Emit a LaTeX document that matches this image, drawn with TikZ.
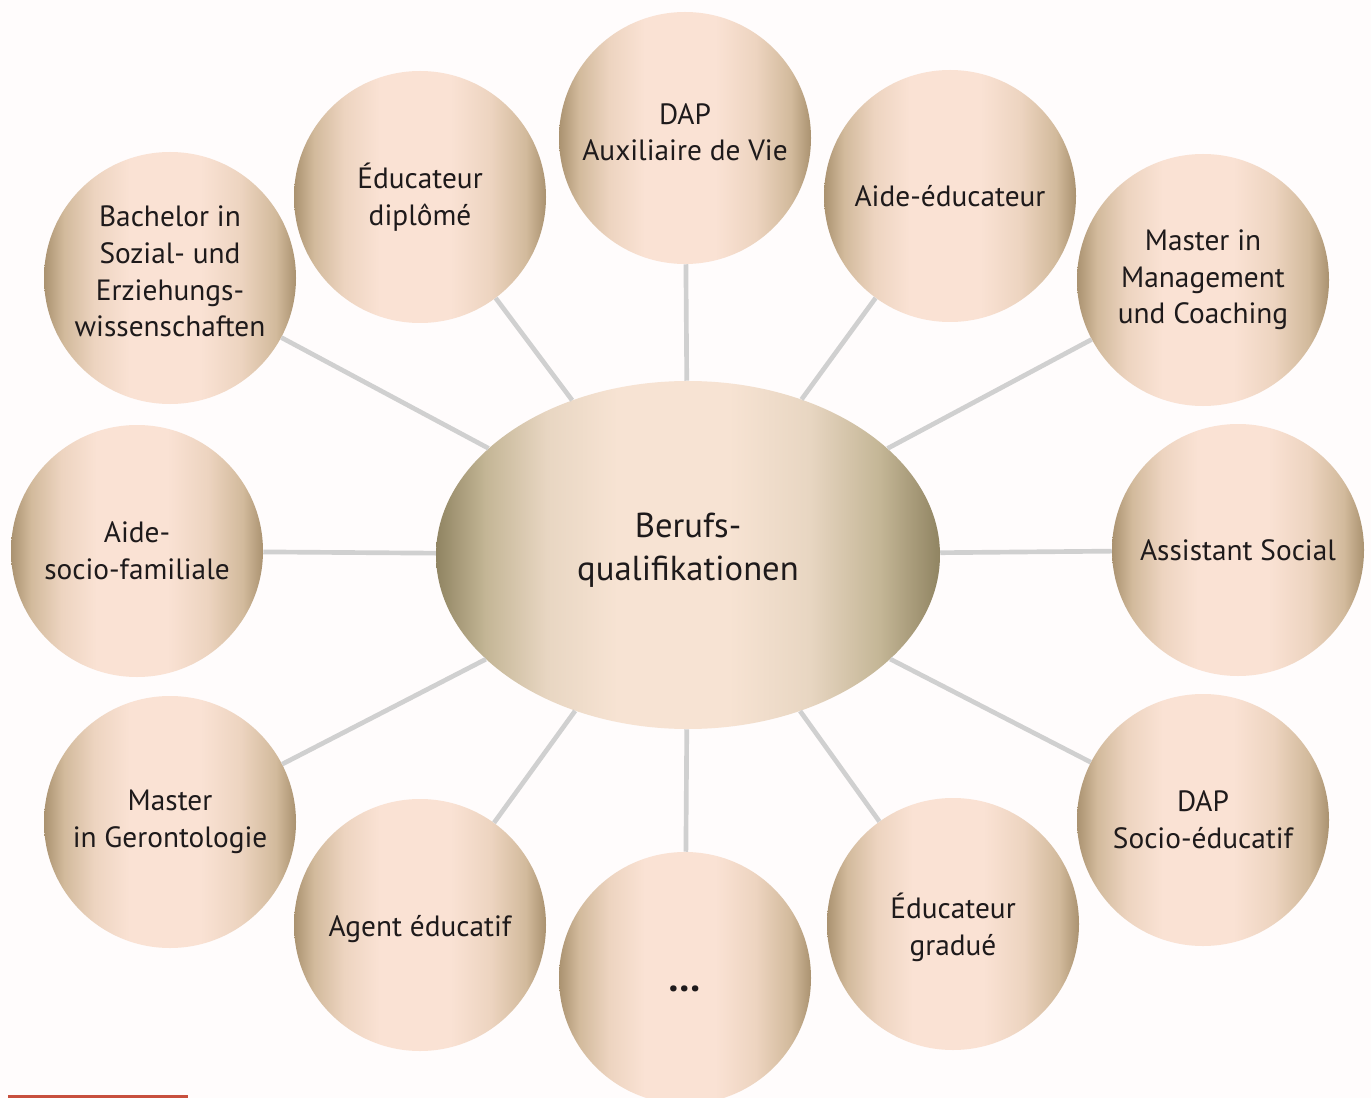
\documentclass[tikz,border=0pt]{standalone}
\usepackage{fontspec}
\setmainfont{PT Sans}
\usepackage{tikz}
\usetikzlibrary{shapes.geometric}

\definecolor{pagebg}{RGB}{255,252,252}
\definecolor{linkgray}{RGB}{208,208,208}
\definecolor{textdark}{RGB}{30,26,27}
\definecolor{barred}{RGB}{200,80,62}
\definecolor{balledge}{RGB}{170,146,112}
\definecolor{ballmid}{RGB}{210,186,156}
\definecolor{ballsoft}{RGB}{237,212,192}
\definecolor{ballpeach}{RGB}{250,226,212}
\definecolor{hubedge}{RGB}{144,132,98}
\definecolor{hubmid}{RGB}{196,182,150}
\definecolor{hubsoft}{RGB}{232,214,194}
\definecolor{hubpeach}{RGB}{247,227,211}

\pgfdeclarehorizontalshading{ballshade}{100bp}{color(0bp)=(balledge); color(25bp)=(balledge);
  color(29bp)=(ballmid); color(35bp)=(ballsoft); color(42bp)=(ballpeach); color(56bp)=(ballpeach);
  color(64bp)=(ballsoft); color(71bp)=(ballmid); color(75bp)=(balledge); color(100bp)=(balledge)}
\pgfdeclarehorizontalshading{hubshade}{100bp}{color(0bp)=(hubedge); color(25bp)=(hubedge);
  color(30bp)=(hubmid); color(36bp)=(hubsoft); color(43bp)=(hubpeach); color(54bp)=(hubpeach);
  color(62bp)=(hubsoft); color(69bp)=(hubmid); color(75bp)=(hubedge); color(100bp)=(hubedge)}

\begin{document}
\begin{tikzpicture}[x=0.75pt,y=0.75pt,yscale=-1,xscale=1,
  bubble/.style={circle,minimum size=189pt,inner sep=0pt,shade,shading=ballshade,
    align=center,text=textdark,font=\fontsize{22}{27.5}\selectfont},
  hub/.style={ellipse,minimum width=378pt,minimum height=261pt,inner sep=0pt,shade,shading=hubshade,
    align=center,text=textdark,font=\fontsize{26}{32}\selectfont},
  link/.style={draw=linkgray,line width=3.5pt}]
%set diagram size 1371 x 1098
\useasboundingbox (0,0) rectangle (1371,1098);
\fill [pagebg] (0,0) rectangle (1371,1098);

%Shape: Ellipse [centre]
\node [hub] (berufs) at (688,555) {Berufs-\\qualifikationen\rule[-12pt]{0pt}{0pt}};

%Shape: Circle [top]
\node [bubble] (dapaux) at (685,138) {DAP\\Auxiliaire de Vie\rule[-9pt]{0pt}{0pt}};
%Shape: Circle
\node [bubble] (aideedu) at (950,196) {Aide-éducateur};
%Shape: Circle
\node [bubble] (mastermgmt) at (1203,280) {Master in\\Management\\und Coaching};
%Shape: Circle [right]
\node [bubble] (assist) at (1238,550) {Assistant Social};
%Shape: Circle
\node [bubble] (dapsocio) at (1203,820) {DAP\\Socio-éducatif};
%Shape: Circle
\node [bubble] (edugrad) at (953,924) {\rule{0pt}{24pt}Éducateur\\gradué};
%Shape: Circle [bottom]
\node [bubble] (others) at (685,978) {\rule{0pt}{20pt}{\fontsize{30}{30}\selectfont\textbf{\dots}}};
%Shape: Circle
\node [bubble] (agent) at (420,925) {\rule{0pt}{22pt}Agent éducatif};
%Shape: Circle
\node [bubble] (mastergero) at (170,822) {Master\\in Gerontologie};
%Shape: Circle [left]
\node [bubble] (aidesocio) at (137,551) {Aide-\\socio-familiale};
%Shape: Circle
\node [bubble] (bachelor) at (170,278) {Bachelor in\\Sozial- und\\Erziehungs-\\wissenschaften\rule[-10pt]{0pt}{0pt}};
%Shape: Circle
\node [bubble] (edudipl) at (420,197) {Éducateur\\diplômé};

%Straight Lines
\draw [link] (berufs) -- (dapaux);
\draw [link] (berufs) -- (aideedu);
\draw [link] (berufs) -- (mastermgmt);
\draw [link] (berufs) -- (assist);
\draw [link] (berufs) -- (dapsocio);
\draw [link] (berufs) -- (edugrad);
\draw [link] (berufs) -- (others);
\draw [link] (berufs) -- (agent);
\draw [link] (berufs) -- (mastergero);
\draw [link] (berufs) -- (aidesocio);
\draw [link] (berufs) -- (bachelor);
\draw [link] (berufs) -- (edudipl);

%Shape: Rectangle [red bar]
\fill [barred] (8,1095) rectangle (188,1098);
\end{tikzpicture}
\end{document}
